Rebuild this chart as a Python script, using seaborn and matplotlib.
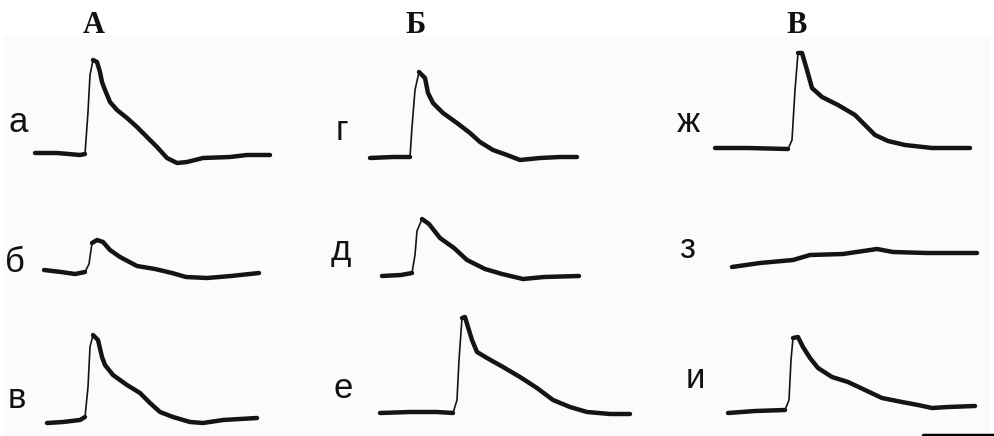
import numpy as np
import pandas as pd
import matplotlib
matplotlib.use("Agg")
import matplotlib.pyplot as plt
import matplotlib.patches as patches
import seaborn as sns

# -----------------------------
# Data (traces, pixel coords: x right, y down)
# -----------------------------
col_titles = ["А", "Б", "В"]
col_title_x = [94, 416, 797]

row_labels = ["а", "б", "в", "г", "д", "е", "ж", "з", "и"]
row_label_x = [18, 15, 17, 342, 341, 343, 688, 687, 695]
row_label_y = [132, 272, 408, 140, 260, 398, 132, 258, 388]

# А
tr_a_x = [35, 57, 80, 85, 88, 90, 93, 97, 100, 102, 105, 110, 117, 127, 137, 147,
          157, 167, 177, 187, 203, 230, 247, 270]
tr_a_y = [153, 153, 155, 154, 112, 75, 60, 62, 72, 82, 90, 102, 110, 118, 127, 137,
          147, 158, 163, 162, 158, 157, 155, 155]
tr_b_x = [44, 61, 75, 85, 89, 92, 97, 103, 110, 120, 137, 155, 172, 186, 207, 231, 259]
tr_b_y = [270, 272, 274, 272, 264, 243, 240, 242, 250, 257, 266, 269, 273, 277, 278, 276, 273]
tr_v_x = [47, 63, 80, 85, 88, 90, 93, 98, 102, 105, 113, 127, 140, 150, 160, 173,
          190, 203, 223, 240, 257]
tr_v_y = [423, 422, 420, 417, 387, 347, 335, 340, 357, 365, 375, 385, 393, 403, 412, 417,
          422, 423, 420, 419, 418]
# Б
tr_g_x = [370, 393, 410, 412, 415, 419, 425, 428, 433, 443, 457, 470, 480, 493, 507,
          520, 540, 560, 577]
tr_g_y = [158, 157, 157, 127, 90, 72, 78, 93, 103, 113, 123, 133, 142, 150, 155,
          160, 158, 157, 157]
tr_d_x = [382, 401, 412, 415, 417, 422, 429, 440, 454, 467, 485, 502, 523, 544, 579]
tr_d_y = [276, 275, 273, 255, 231, 219, 224, 238, 248, 260, 269, 274, 279, 277, 276]
tr_e_x = [380, 410, 437, 453, 457, 459, 462, 465, 468, 472, 477, 487, 503, 520, 537,
          553, 570, 587, 610, 630]
tr_e_y = [413, 412, 412, 413, 400, 360, 318, 317, 327, 340, 352, 358, 367, 377, 388,
          400, 407, 412, 414, 414]
# В
tr_zh_x = [715, 748, 788, 792, 795, 798, 802, 807, 812, 822, 838, 855, 865, 875, 888,
           905, 932, 970]
tr_zh_y = [148, 148, 149, 140, 90, 53, 53, 70, 88, 97, 105, 115, 125, 135, 141,
           145, 148, 148]
tr_z_x = [732, 760, 793, 810, 843, 877, 893, 927, 977]
tr_z_y = [267, 263, 260, 255, 254, 249, 252, 253, 253]
tr_i_x = [728, 755, 785, 789, 791, 793, 798, 803, 810, 818, 832, 848, 865, 882, 902,
          918, 932, 948, 975]
tr_i_y = [413, 411, 410, 400, 360, 338, 337, 347, 358, 368, 377, 382, 390, 398, 402,
          405, 408, 407, 406]

scale_bar_x = [923, 994]
scale_bar_y = [435, 435]

traces = [
    (tr_a_x, tr_a_y), (tr_b_x, tr_b_y), (tr_v_x, tr_v_y),
    (tr_g_x, tr_g_y), (tr_d_x, tr_d_y), (tr_e_x, tr_e_y),
    (tr_zh_x, tr_zh_y), (tr_z_x, tr_z_y), (tr_i_x, tr_i_y),
]

# -----------------------------
# Plot
# -----------------------------
sns.set_style("white")
fig = plt.figure(figsize=(9.94, 4.36), dpi=100)
ax = fig.add_axes([0, 0, 1, 1])
ax.set_xlim(0, 994)
ax.set_ylim(436, 0)
ax.axis("off")

# faint scanned page area
ax.add_patch(patches.Rectangle((3, 35), 987, 401, facecolor="#fbfbfa",
                               edgecolor="none", zorder=0))

ink = "#141414"
thick = dict(sort=False, estimator=None, color=ink, linewidth=3.2,
             solid_capstyle="round", solid_joinstyle="round")
for xs, ys in traces:
    df = pd.DataFrame({"x": xs, "y": ys})
    # the fast upstroke is drawn thin, the rest thick like the pen trace
    slope = np.diff(ys) / np.diff(xs)
    rise = [i for i in range(len(slope)) if slope[i] < -1.9]
    if rise:
        i0, i1 = rise[0], rise[-1] + 1
        sns.lineplot(data=df.iloc[:i0 + 1], x="x", y="y", ax=ax, **thick)
        sns.lineplot(data=df.iloc[i0:i1 + 1], x="x", y="y", ax=ax, sort=False,
                     estimator=None, color=ink, linewidth=1.2)
        sns.lineplot(data=df.iloc[i1:], x="x", y="y", ax=ax, **thick)
    else:
        sns.lineplot(data=df, x="x", y="y", ax=ax, **thick)

ax.plot(scale_bar_x, scale_bar_y, color="black", linewidth=2.5)

for t, x in zip(col_titles, col_title_x):
    ax.text(x, 33, t, ha="center", va="baseline", fontsize=22,
            fontweight="bold", family="Liberation Serif", color="#111111")

for t, x, y in zip(row_labels, row_label_x, row_label_y):
    ax.text(x, y, t, ha="center", va="baseline", fontsize=25,
            family="Liberation Sans", color="#111111")

ax.set_xlabel("")
ax.set_ylabel("")
fig.savefig("out.png", dpi=100)
